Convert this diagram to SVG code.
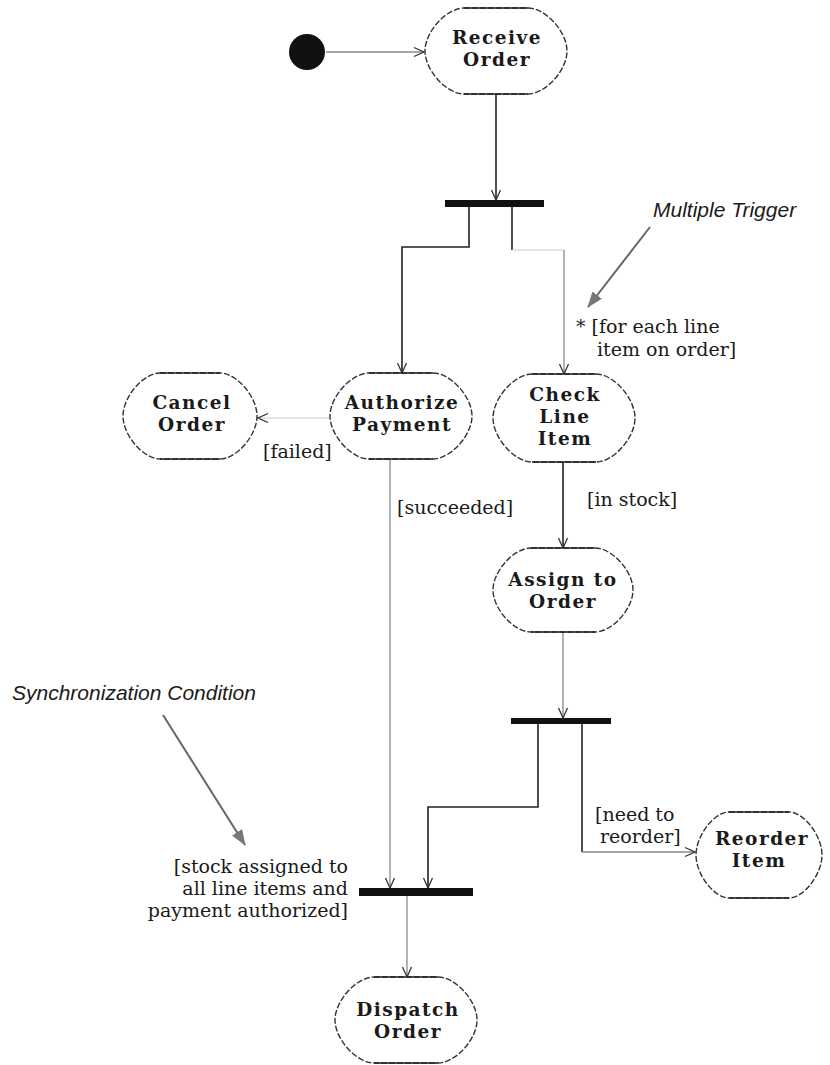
<svg xmlns="http://www.w3.org/2000/svg" width="830" height="1065" viewBox="0 0 830 1065">
<style>
.act{fill:#fff;stroke:#333;stroke-width:1.4;stroke-dasharray:6 2}
.flat{stroke:#222;stroke-width:1.6}
.nt{font-family:"DejaVu Serif","Liberation Serif",serif;font-weight:bold;font-size:18.5px;letter-spacing:1.5px;fill:#1a1a1a;text-anchor:middle}
.gd{font-family:"DejaVu Serif","Liberation Serif",serif;font-size:19px;fill:#1a1a1a}
.note{font-family:"Liberation Sans",Arial,sans-serif;font-style:italic;font-size:21px;fill:#1a1a1a}
.dk{fill:none;stroke:#222;stroke-width:1.6}
.lt{fill:none;stroke:#888;stroke-width:1.3}
.vl{fill:none;stroke:#ccc;stroke-width:1}
.bar{fill:#111}
</style>
<defs>
<marker id="open" viewBox="0 0 12 12" refX="11" refY="6" markerWidth="12" markerHeight="12" markerUnits="userSpaceOnUse" orient="auto">
<path d="M1,1.5 L11,6 L1,10.5" fill="none" stroke="#333" stroke-width="1.3"/>
</marker>
<marker id="solid" viewBox="0 0 16 12" refX="15" refY="6" markerWidth="16" markerHeight="12" markerUnits="userSpaceOnUse" orient="auto">
<path d="M0,0 L16,6 L0,12 Z" fill="#777"/>
</marker>
</defs>
<rect width="830" height="1065" fill="#fff"/>

<g id="connectors">
<line class="lt" x1="326" y1="52" x2="424" y2="52" marker-end="url(#open)"/>
<line class="dk" x1="496" y1="94" x2="496" y2="200" marker-end="url(#open)"/>
<path class="dk" d="M469,207 V247 H402 V373" marker-end="url(#open)"/>
<line class="dk" x1="512" y1="207" x2="512" y2="250"/>
<line class="vl" x1="512" y1="250" x2="564" y2="250"/>
<line class="lt" x1="564" y1="250" x2="564" y2="374" marker-end="url(#open)"/>
<line class="vl" x1="330" y1="418" x2="258" y2="418" marker-end="url(#open)"/>
<line class="lt" x1="390" y1="460" x2="390" y2="888" marker-end="url(#open)"/>
<line class="dk" x1="563" y1="462" x2="563" y2="548" marker-end="url(#open)"/>
<line class="lt" x1="563" y1="632" x2="563" y2="718" marker-end="url(#open)"/>
<path class="dk" d="M538,724 V807 H428 V888" marker-end="url(#open)"/>
<line class="dk" x1="582" y1="724" x2="582" y2="852"/>
<line class="lt" x1="582" y1="852" x2="695" y2="852" marker-end="url(#open)"/>
<line class="lt" x1="407" y1="896" x2="407" y2="977" marker-end="url(#open)"/>
<line stroke="#666" stroke-width="2" x1="650" y1="227" x2="588" y2="307" marker-end="url(#solid)"/>
<line stroke="#666" stroke-width="2" x1="163" y1="715" x2="245" y2="845" marker-end="url(#solid)"/>
</g>

<g id="start"><circle cx="307" cy="52" r="18" fill="#111"/></g>

<g id="receive-order">
<path class="act" d="M464,8 H528 C545.5,8 567,31.7 567,51 C567,70.3 545.5,94 528,94 H464 C446.5,94 425,70.3 425,51 C425,31.7 446.5,8 464,8 Z"/>
<line class="flat" x1="464" y1="8" x2="528" y2="8"/><line class="flat" x1="464" y1="94" x2="528" y2="94"/>
<text class="nt" x="497" y="44">Receive</text><text class="nt" x="497" y="66">Order</text>
</g>

<g id="fork1"><rect class="bar" x="445" y="200" width="99" height="7"/></g>

<g id="cancel-order">
<path class="act" d="M160,373 H220 C236.7,373 257,396.7 257,416 C257,435.3 236.7,459 220,459 H160 C143.3,459 123,435.3 123,416 C123,396.7 143.3,373 160,373 Z"/>
<line class="flat" x1="160" y1="373" x2="220" y2="373"/><line class="flat" x1="160" y1="459" x2="220" y2="459"/>
<text class="nt" x="192" y="409">Cancel</text><text class="nt" x="192" y="431">Order</text>
</g>

<g id="authorize-payment">
<path class="act" d="M369,373 H433 C450.5,373 472,396.7 472,416 C472,435.3 450.5,459 433,459 H369 C351.5,459 330,435.3 330,416 C330,396.7 351.5,373 369,373 Z"/>
<line class="flat" x1="369" y1="373" x2="433" y2="373"/><line class="flat" x1="369" y1="459" x2="433" y2="459"/>
<text class="nt" x="402" y="409">Authorize</text><text class="nt" x="402" y="431">Payment</text>
</g>

<g id="check-line-item">
<path class="act" d="M532,374 H596 C613.5,374 635,398.2 635,418 C635,437.8 613.5,462 596,462 H532 C514.5,462 493,437.8 493,418 C493,398.2 514.5,374 532,374 Z"/>
<line class="flat" x1="532" y1="374" x2="596" y2="374"/><line class="flat" x1="532" y1="462" x2="596" y2="462"/>
<text class="nt" x="565" y="401">Check</text><text class="nt" x="565" y="423">Line</text><text class="nt" x="565" y="445">Item</text>
</g>

<g id="assign-to-order">
<path class="act" d="M531,548 H595 C612.1,548 633,571.1 633,590 C633,608.9 612.1,632 595,632 H531 C513.9,632 493,608.9 493,590 C493,571.1 513.9,548 531,548 Z"/>
<line class="flat" x1="531" y1="548" x2="595" y2="548"/><line class="flat" x1="531" y1="632" x2="595" y2="632"/>
<text class="nt" x="563" y="586">Assign to</text><text class="nt" x="563" y="608">Order</text>
</g>

<g id="fork2"><rect class="bar" x="511" y="718" width="100" height="6"/></g>

<g id="reorder-item">
<path class="act" d="M729,812 H789 C803.9,812 822,835.7 822,855 C822,874.3 803.9,898 789,898 H729 C714.1,898 696,874.3 696,855 C696,835.7 714.1,812 729,812 Z"/>
<line class="flat" x1="729" y1="812" x2="789" y2="812"/><line class="flat" x1="729" y1="898" x2="789" y2="898"/>
<text class="nt" x="762" y="845">Reorder</text><text class="nt" x="759" y="867">Item</text>
</g>

<g id="join"><rect class="bar" x="359" y="888" width="114" height="8"/></g>

<g id="dispatch-order">
<path class="act" d="M374,977 H438 C455.5,977 477,1000.7 477,1020 C477,1039.3 455.5,1063 438,1063 H374 C356.5,1063 335,1039.3 335,1020 C335,1000.7 356.5,977 374,977 Z"/>
<line class="flat" x1="374" y1="977" x2="438" y2="977"/><line class="flat" x1="374" y1="1063" x2="438" y2="1063"/>
<text class="nt" x="408" y="1016">Dispatch</text><text class="nt" x="408" y="1038">Order</text>
</g>

<g id="labels">
<text class="note" x="653" y="217">Multiple Trigger</text>
<text class="note" x="12" y="700">Synchronization Condition</text>
<text class="gd" x="576" y="333">* [for each line</text>
<text class="gd" x="597" y="356">item on order]</text>
<text class="gd" x="263" y="458">[failed]</text>
<text class="gd" x="397" y="514">[succeeded]</text>
<text class="gd" x="587" y="506">[in stock]</text>
<text class="gd" x="595" y="821">[need to</text>
<text class="gd" x="600" y="843">reorder]</text>
<text class="gd" x="348" y="873" text-anchor="end">[stock assigned to</text>
<text class="gd" x="348" y="895" text-anchor="end">all line items and</text>
<text class="gd" x="348" y="917" text-anchor="end">payment authorized]</text>
</g>
</svg>
